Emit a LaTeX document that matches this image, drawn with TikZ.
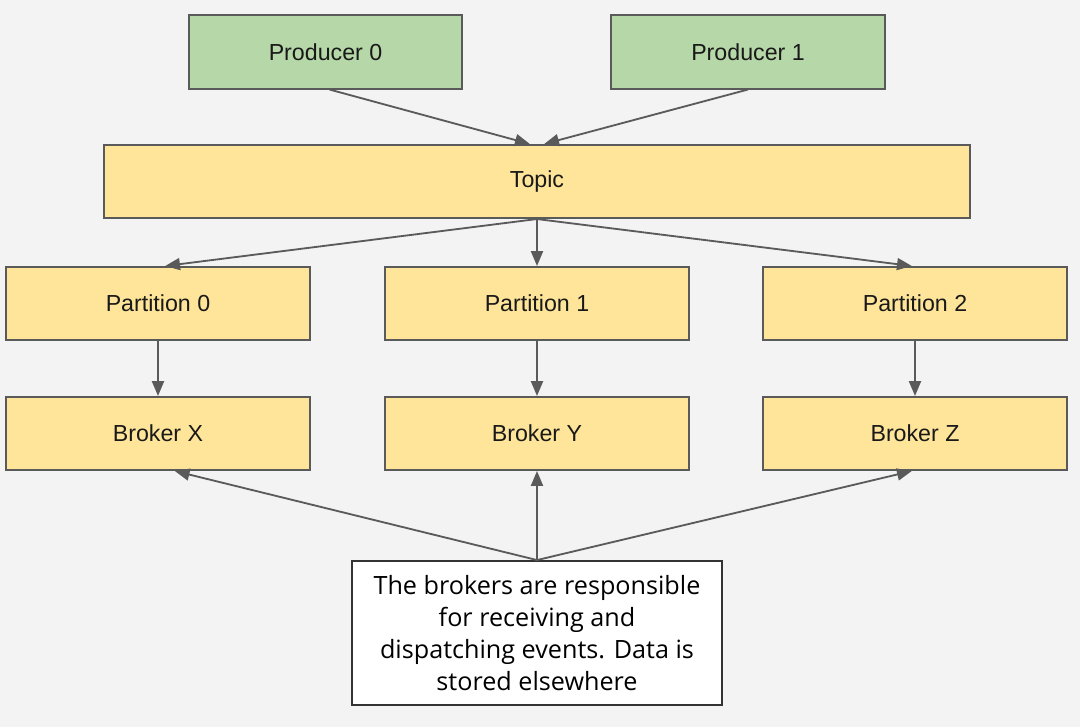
\documentclass[tikz,border=0pt]{standalone}
\usepackage{fontspec}
\setmainfont{Liberation Sans}
\newfontfamily\notefont{Open Sans}
\usetikzlibrary{arrows.meta}
\definecolor{prodgreen}{HTML}{B6D7A8}
\definecolor{boxyellow}{HTML}{FFE599}
\definecolor{linegrey}{HTML}{5A5A5A}
\definecolor{bggrey}{HTML}{F3F3F3}

\begin{document}
\begin{tikzpicture}[x=0.025cm,y=-0.025cm,
    box/.style={draw=linegrey,line width=1.3pt,minimum height=1.83cm,
      font=\fontsize{16.5}{20}\selectfont,text=black!90},
    producer/.style={box,fill=prodgreen,minimum width=6.83cm},
    part/.style={box,fill=boxyellow,minimum width=7.6cm},
    note/.style={draw=black!80,line width=1.3pt,fill=white,minimum width=9.25cm,
      minimum height=3.6cm,align=center,font=\notefont\fontsize{17.9}{22.7}\selectfont},
    flow/.style={draw=linegrey,line width=1.3pt,-{Triangle[length=0.37cm,width=0.3cm]}}]
      \fill[bggrey] (0,0) rectangle (1080,727);

      \node (p0) [producer] at (325.5,52) {Producer 0};
      \node (p1) [producer] at (748,52)   {Producer 1};
      \node (topic) [box,fill=boxyellow,minimum width=21.65cm] at (537,181.5) {Topic};

      \node (part0) [part] at (158,303.5) {Partition 0};
      \node (part1) [part] at (537,303.5) {Partition 1};
      \node (part2) [part] at (915,303.5) {Partition 2};

      \node (bx) [part] at (158,433.5) {Broker X};
      \node (by) [part] at (537,433.5) {Broker Y};
      \node (bz) [part] at (915,433.5) {Broker Z};

      \node (note) [note] at (537,633)
        {The brokers are responsible\\for receiving and\\dispatching events. Data is\\stored elsewhere};

      \draw [flow] ([xshift=0.1cm]p0.south)  to ([xshift=-0.18cm]topic.north);
      \draw [flow] (p1.south)                to ([xshift=0.18cm]topic.north);

      \draw [flow] (topic.south) to ([xshift=0.18cm]part0.north);
      \draw [flow] (topic.south) to (part1.north);
      \draw [flow] (topic.south) to ([xshift=-0.08cm]part2.north);

      \draw [flow] (part0) to (bx);
      \draw [flow] (part1) to (by);
      \draw [flow] (part2) to (bz);

      \draw [flow] (note.north) to ([xshift=0.42cm]bx.south);
      \draw [flow] (note.north) to (by.south);
      \draw [flow] (note.north) to ([xshift=-0.08cm]bz.south);
\end{tikzpicture}
\end{document}
